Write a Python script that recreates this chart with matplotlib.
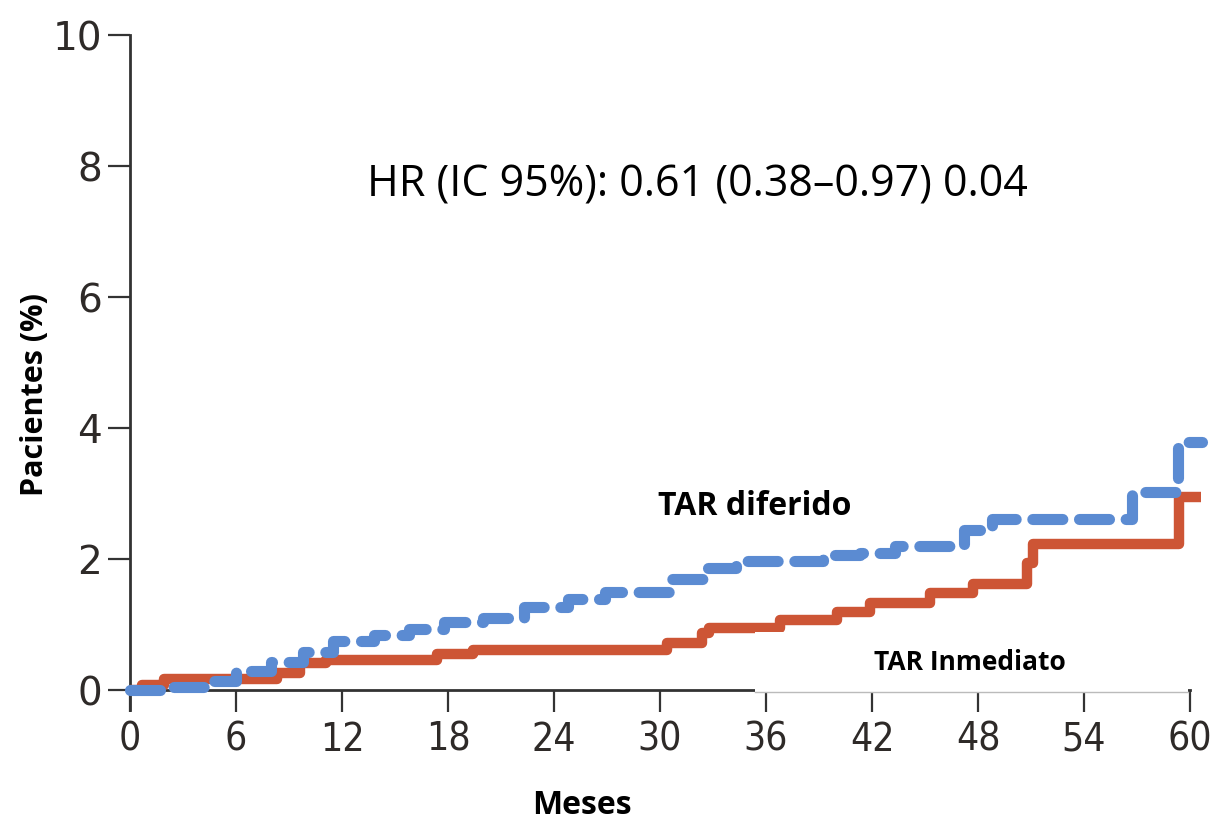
import matplotlib
matplotlib.use("Agg")
import matplotlib.pyplot as plt
from matplotlib.patches import Rectangle
from matplotlib.transforms import blended_transform_factory

# Data (months, cumulative % of patients)
t_inmediato = [0, 0.7, 1.9, 8.3, 9.6, 11.1, 17.4, 19.4, 30.4, 32.4, 32.8, 36.8,
               40.0, 41.9, 45.3, 47.7, 50.8, 51.1, 59.4, 60.6]
v_inmediato = [0, 0.08, 0.18, 0.27, 0.41, 0.46, 0.55, 0.61, 0.73, 0.87, 0.95, 1.07,
               1.19, 1.33, 1.48, 1.63, 1.95, 2.24, 2.95, 2.95]

t_diferido = [0, 2.2, 4.2, 6.0, 8.0, 9.8, 11.5, 13.8, 15.8, 17.8, 20.0, 22.3, 24.8,
              26.9, 30.5, 32.5, 34.3, 39.2, 41.3, 43.3, 47.2, 48.8, 56.7, 59.3, 60.7]
v_diferido = [0, 0.05, 0.15, 0.3, 0.43, 0.58, 0.76, 0.84, 0.94, 1.04, 1.1, 1.27, 1.4,
              1.5, 1.7, 1.86, 1.98, 2.06, 2.09, 2.21, 2.44, 2.62, 3.02, 3.79, 3.79]

x_ticks = [0, 6, 12, 18, 24, 30, 36, 42, 48, 54, 60]
y_ticks = [0, 2, 4, 6, 8, 10]

RED = "#CD5535"
BLUE = "#5B8BD2"
AX_COL = "#333333"
LBL_COL = "#2e2a28"

fig = plt.figure(figsize=(12.2, 8.25), dpi=100)
ax = fig.add_axes([130/1220, 1-710/825, 1060/1220, 675/825])

ax.step(t_inmediato, v_inmediato, where="post", color=RED, lw=7.5,
        solid_capstyle="butt", clip_on=False, zorder=3)
ax.step(t_diferido, v_diferido, where="post", color=BLUE, lw=8,
        linestyle=(0, (2.7, 1.5)), dash_capstyle="round", clip_on=False, zorder=4)

ax.set_xlim(0, 60)
ax.set_ylim(-0.3, 10)

ax.spines["top"].set_visible(False)
ax.spines["right"].set_visible(False)
ax.spines["bottom"].set_position(("data", 0))
for s in ("left", "bottom"):
    ax.spines[s].set_color(AX_COL)
    ax.spines[s].set_linewidth(2)

ax.set_xticks(x_ticks)
ax.set_xticklabels([str(v) for v in x_ticks], fontsize=28, fontstretch="condensed",
                   family="DejaVu Sans", color=LBL_COL)
ax.set_yticks(y_ticks)
ax.set_yticklabels([str(v) for v in y_ticks], fontsize=28, family="DejaVu Sans",
                   color=LBL_COL)
ax.tick_params(axis="x", direction="out", length=16, width=1.6, color=AX_COL, pad=6)
ax.tick_params(axis="y", direction="out", length=16, width=1.6, color=AX_COL, pad=4)

# White label box covering part of the axis
trans = blended_transform_factory(ax.transAxes, ax.transData)
ax.add_patch(Rectangle((0.59, -0.03), 0.408, 0.915, transform=trans,
                       facecolor="white", edgecolor="none", zorder=5, clip_on=False))
ax.plot([0.59, 0.998], [-0.02, -0.02], transform=trans, color="#bbbbbb", lw=1,
        zorder=6, clip_on=False)

ax.text(0.7925, 0.42, "TAR Inmediato", transform=trans, ha="center", va="center",
        fontsize=19, fontweight="bold", family="Open Sans", zorder=7)
ax.text(0.589, 2.8, "TAR diferido", transform=trans, ha="center", va="center",
        fontsize=23, fontweight="bold", family="Open Sans", zorder=7)
ax.text(0.535, 7.7, "HR (IC 95%): 0.61 (0.38\u20130.97) 0.04", transform=trans,
        ha="center", va="center", fontsize=31, family="Open Sans", zorder=7)

fig.text(35/1220, 1-395/825, "Pacientes (%)", rotation=90, ha="center", va="center",
         fontsize=22, fontweight="bold", family="Open Sans")
fig.text(582/1220, 1-805/825, "Meses", ha="center", va="center",
         fontsize=23, fontweight="bold", family="Open Sans")

fig.savefig("out.png", dpi=100)
